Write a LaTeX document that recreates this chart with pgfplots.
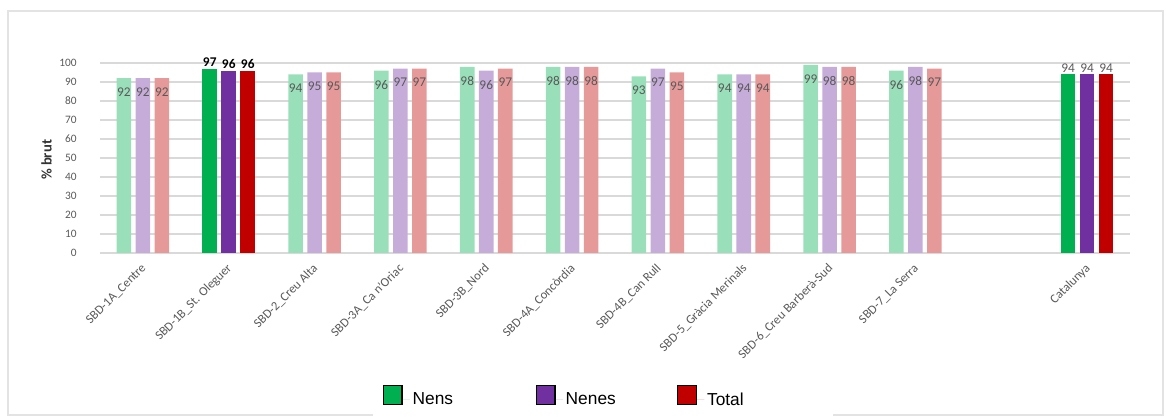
\documentclass[border=0pt]{standalone}
\usepackage{fontspec}
\setmainfont{Carlito}
\newfontfamily\legendfont{Liberation Sans}
\usepackage{pgfplots}
\usepackage{pgfplotstable}
\pgfplotsset{compat=1.18}

\definecolor{nens}{HTML}{00B050}
\definecolor{nenes}{HTML}{7030A0}
\definecolor{total}{HTML}{C00000}
\definecolor{txtgray}{HTML}{595959}
\definecolor{gridgray}{HTML}{D9D9D9}
\definecolor{framegray}{HTML}{E3E3E3}

% barris (colors clars)
\pgfplotstableread{
x nens nenes total
0 92 92 92
2 94 95 95
3 96 97 97
4 98 96 97
5 98 98 98
6 93 97 95
7 94 94 94
8 99 98 98
9 96 98 97
}\barris
% SBD-1B (destacat)
\pgfplotstableread{
x nens nenes total
1 97 96 96
}\oleguer
% Catalunya
\pgfplotstableread{
x nens nenes total
11 94 94 94
}\catalunya

% separacio entre barres del grup, en unitats de l'eix x
\def\gap{0.2214}

\pgfplotsset{
  sq legend/.style={legend image code/.code={
    \draw[##1, draw=black, line width=0.9pt] (0pt,-3.5pt) rectangle (14pt,10.5pt);
    \path (14pt,0pt) -- (20pt,0pt);}},
  light/.style={ybar, bar width=10.9pt, bar shift=0pt, draw=none, fill=#1!40,
    nodes near coords,
    every node near coord/.append style={anchor=north, yshift=-6pt,
      font=\fontsize{10}{12}\selectfont, text=txtgray, inner sep=1pt}},
  full/.style={ybar, bar width=10.9pt, bar shift=0pt, draw=none, fill=#1,
    nodes near coords,
    every node near coord/.append style={anchor=south,
      font=\fontsize{10}{12}\selectfont, text=txtgray, inner sep=1.5pt}},
  boldlab/.style={every node near coord/.append style={
      font=\bfseries\fontsize{10}{12}\selectfont, text=black}},
}

\begin{document}
\begin{tikzpicture}
\useasboundingbox (0,0) rectangle (874.5pt,312.75pt);
\draw[framegray, line width=1pt] (280pt,1.5pt) -- (6pt,1.5pt) -- (6pt,304.5pt)
  -- (872.25pt,304.5pt) -- (872.25pt,1.5pt) -- (624.75pt,1.5pt);
\begin{axis}[
  at={(75pt,123pt)}, anchor=south west,
  scale only axis, width=772.5pt, height=142.5pt,
  xmin=-0.5, xmax=11.5, ymin=0, ymax=100,
  clip=false,
  axis line style={draw=none},
  major tick length=0pt,
  ymajorgrids, grid style={gridgray, line width=0.8pt},
  ytick={0,10,...,100},
  xtick={0,1,2,3,4,5,6,7,8,9,11},
  xticklabels={{SBD-1A\_Centre},{SBD-1B\_St. Oleguer},{SBD-2\_Creu Alta},
    {SBD-3A\_Ca n'Oriac},{SBD-3B\_Nord},{SBD-4A\_Concòrdia},{SBD-4B\_Can Rull},
    {SBD-5\_Gràcia Merinals},{SBD-6\_Creu Barberà-Sud},{SBD-7\_La Serra},{Catalunya}},
  xticklabel style={xshift=1pt, yshift=-10pt, rotate=45, anchor=east, inner sep=0pt,
    font=\fontsize{9.5}{11}\selectfont, text=txtgray},
  yticklabel style={font=\fontsize{8.5}{10}\selectfont, text=txtgray, xshift=-14pt},
  /pgf/number format/assume math mode=true,
  ylabel={\textbf{\% brut}},
  ylabel style={at={(axis description cs:-0.052,0.49)}, anchor=center,
    font=\fontsize{11}{13}\selectfont, text=black!80},
  legend columns=3,
  legend style={at={(0.451,-0.76)}, anchor=center, draw=none, fill=none,
    font=\legendfont\fontsize{13}{15}\selectfont,
    /tikz/column 2/.style={column sep=60pt},
    /tikz/column 4/.style={column sep=44pt}},
]
\addplot[full=nens, sq legend, boldlab] table[x expr=\thisrow{x}-\gap, y=nens] {\oleguer};
\addlegendentry{Nens}
\addplot[full=nenes, sq legend, boldlab] table[x=x, y=nenes] {\oleguer};
\addlegendentry{Nenes}
\addplot[full=total, sq legend, boldlab] table[x expr=\thisrow{x}+\gap, y=total] {\oleguer};
\addlegendentry{Total}

\addplot[full=nens, forget plot] table[x expr=\thisrow{x}-\gap, y=nens] {\catalunya};
\addplot[full=nenes, forget plot] table[x=x, y=nenes] {\catalunya};
\addplot[full=total, forget plot] table[x expr=\thisrow{x}+\gap, y=total] {\catalunya};

\addplot[light=nens, forget plot] table[x expr=\thisrow{x}-\gap, y=nens] {\barris};
\addplot[light=nenes, forget plot] table[x=x, y=nenes] {\barris};
\addplot[light=total, forget plot] table[x expr=\thisrow{x}+\gap, y=total] {\barris};
\end{axis}
\end{tikzpicture}
\end{document}
